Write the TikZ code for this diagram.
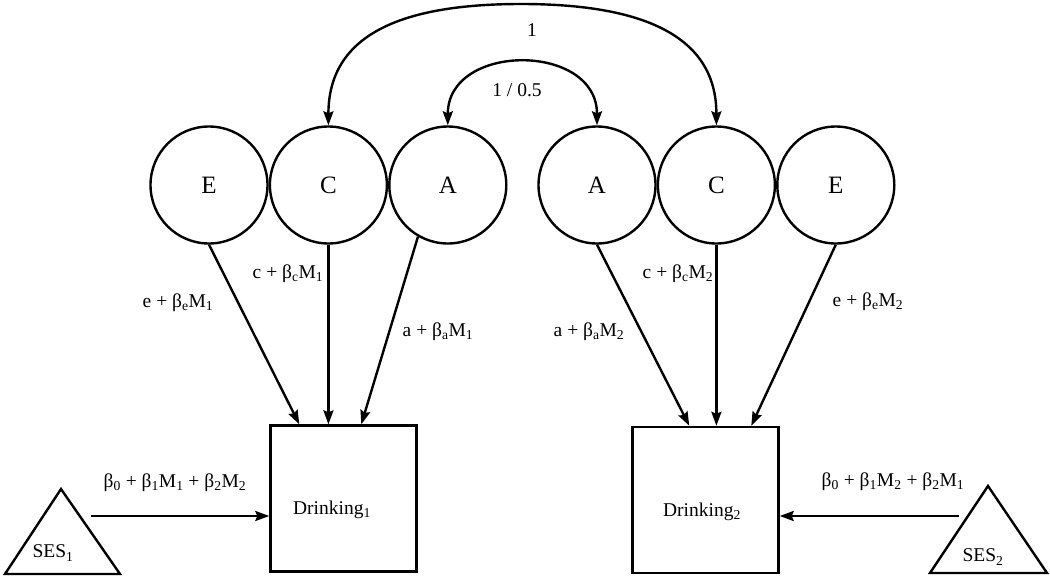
\documentclass[tikz,border=0pt]{standalone}
\usepackage{fontspec}
\setmainfont{Liberation Serif}
\usetikzlibrary{positioning,arrows.meta}
\newcommand{\subs}[1]{\textsubscript{#1}}

\begin{document}
\begin{tikzpicture}[
      x = 1pt, y = -1pt,
      line width = 2.4pt,
      every node/.style = {font = \fontsize{19.5}{22}\selectfont},
      latent/.style = {draw, circle, minimum size = 117pt, inner sep = 0pt, font = \fontsize{25}{28}\selectfont},
      observed/.style = {draw, rectangle, minimum width = 146pt, minimum height = 146pt},
      effect/.style = {-{Stealth[length = 14pt, width = 10pt, inset = 2pt]}},
      cov/.style = {{Stealth[length = 14pt, width = 10pt, inset = 2pt]}-{Stealth[length = 14pt, width = 10pt, inset = 2pt]}}
      ]
      \useasboundingbox (0,0) rectangle (1050,579);
      % twin 1
      \node[latent] (E1) at (209,185) {E};
      \node[latent, right = 0pt of E1] (C1) {C};
      \node[latent, right = 0pt of C1] (A1) {A};
      % twin 2
      \node[latent] (A2) at (597,185) {A};
      \node[latent, right = 0pt of A2] (C2) {C};
      \node[latent, right = 0pt of C2] (E2) {E};

      \node[observed] (D1) at (343.5,498.5) {};
      \node[observed] (D2) at (705.5,500) {};
      \node (D1txt) at (332,510) {Drinking\subs{1}};
      \node (D2txt) at (702,512) {Drinking\subs{2}};

      % SES
      \draw (5,574) -- (61,489) -- (120,574) -- cycle;
      \draw (930,573) -- (988,486) -- (1047,573) -- cycle;
      \node (S1) at (53,553) {SES\subs{1}};
      \node (S2) at (983,557) {SES\subs{2}};
      \coordinate (S1out) at (91,516);
      \coordinate (S2out) at (959,516);
      \draw[effect] (S1out) -- (S1out -| D1.west);
      \draw[effect] (S2out) -- (S2out -| D2.east);
      \node (b1) at (175,483) {β\subs{0} + β\subs{1}M\subs{1} + β\subs{2}M\subs{2}};
      \node (b2) at (893,482) {β\subs{0} + β\subs{1}M\subs{2} + β\subs{2}M\subs{1}};

      % paths
      \draw[effect] (E1.south) -- ([xshift=30pt]D1.north west);
      \draw[effect] (C1.south) -- (C1.south |- D1.north);
      \draw[effect] (A1.-120) -- ([xshift=92pt]D1.north west);
      \draw[effect] (A2.south) -- ([xshift=58pt]D2.north west);
      \draw[effect] (C2.south) -- (C2.south |- D2.north);
      \draw[effect] (E2.south) -- ([xshift=120pt]D2.north west);
      \node (le1) at (178,303) {e + β\subs{e}M\subs{1}};
      \node (lc1) at (288,274) {c + β\subs{c}M\subs{1}};
      \node (la1) at (438,332) {a + β\subs{a}M\subs{1}};
      \node (la2) at (589,332) {a + β\subs{a}M\subs{2}};
      \node (lc2) at (678,274) {c + β\subs{c}M\subs{2}};
      \node (le2) at (868,302) {e + β\subs{e}M\subs{2}};

      % covariances
      \coordinate (top) at (521,4);
      \draw[cov] (C1.north) .. controls +(0,-90) and (400,4) .. (top) .. controls (642,4) and +(0,-90) .. (C2.north);
      \draw[cov] (A1.north) .. controls +(0,-83) and +(0,-83) .. (A2.north);
      \node (rc) at (532,30) {1};
      \node (ra) at (517,90) {1 / 0.5};
\end{tikzpicture}
\end{document}
